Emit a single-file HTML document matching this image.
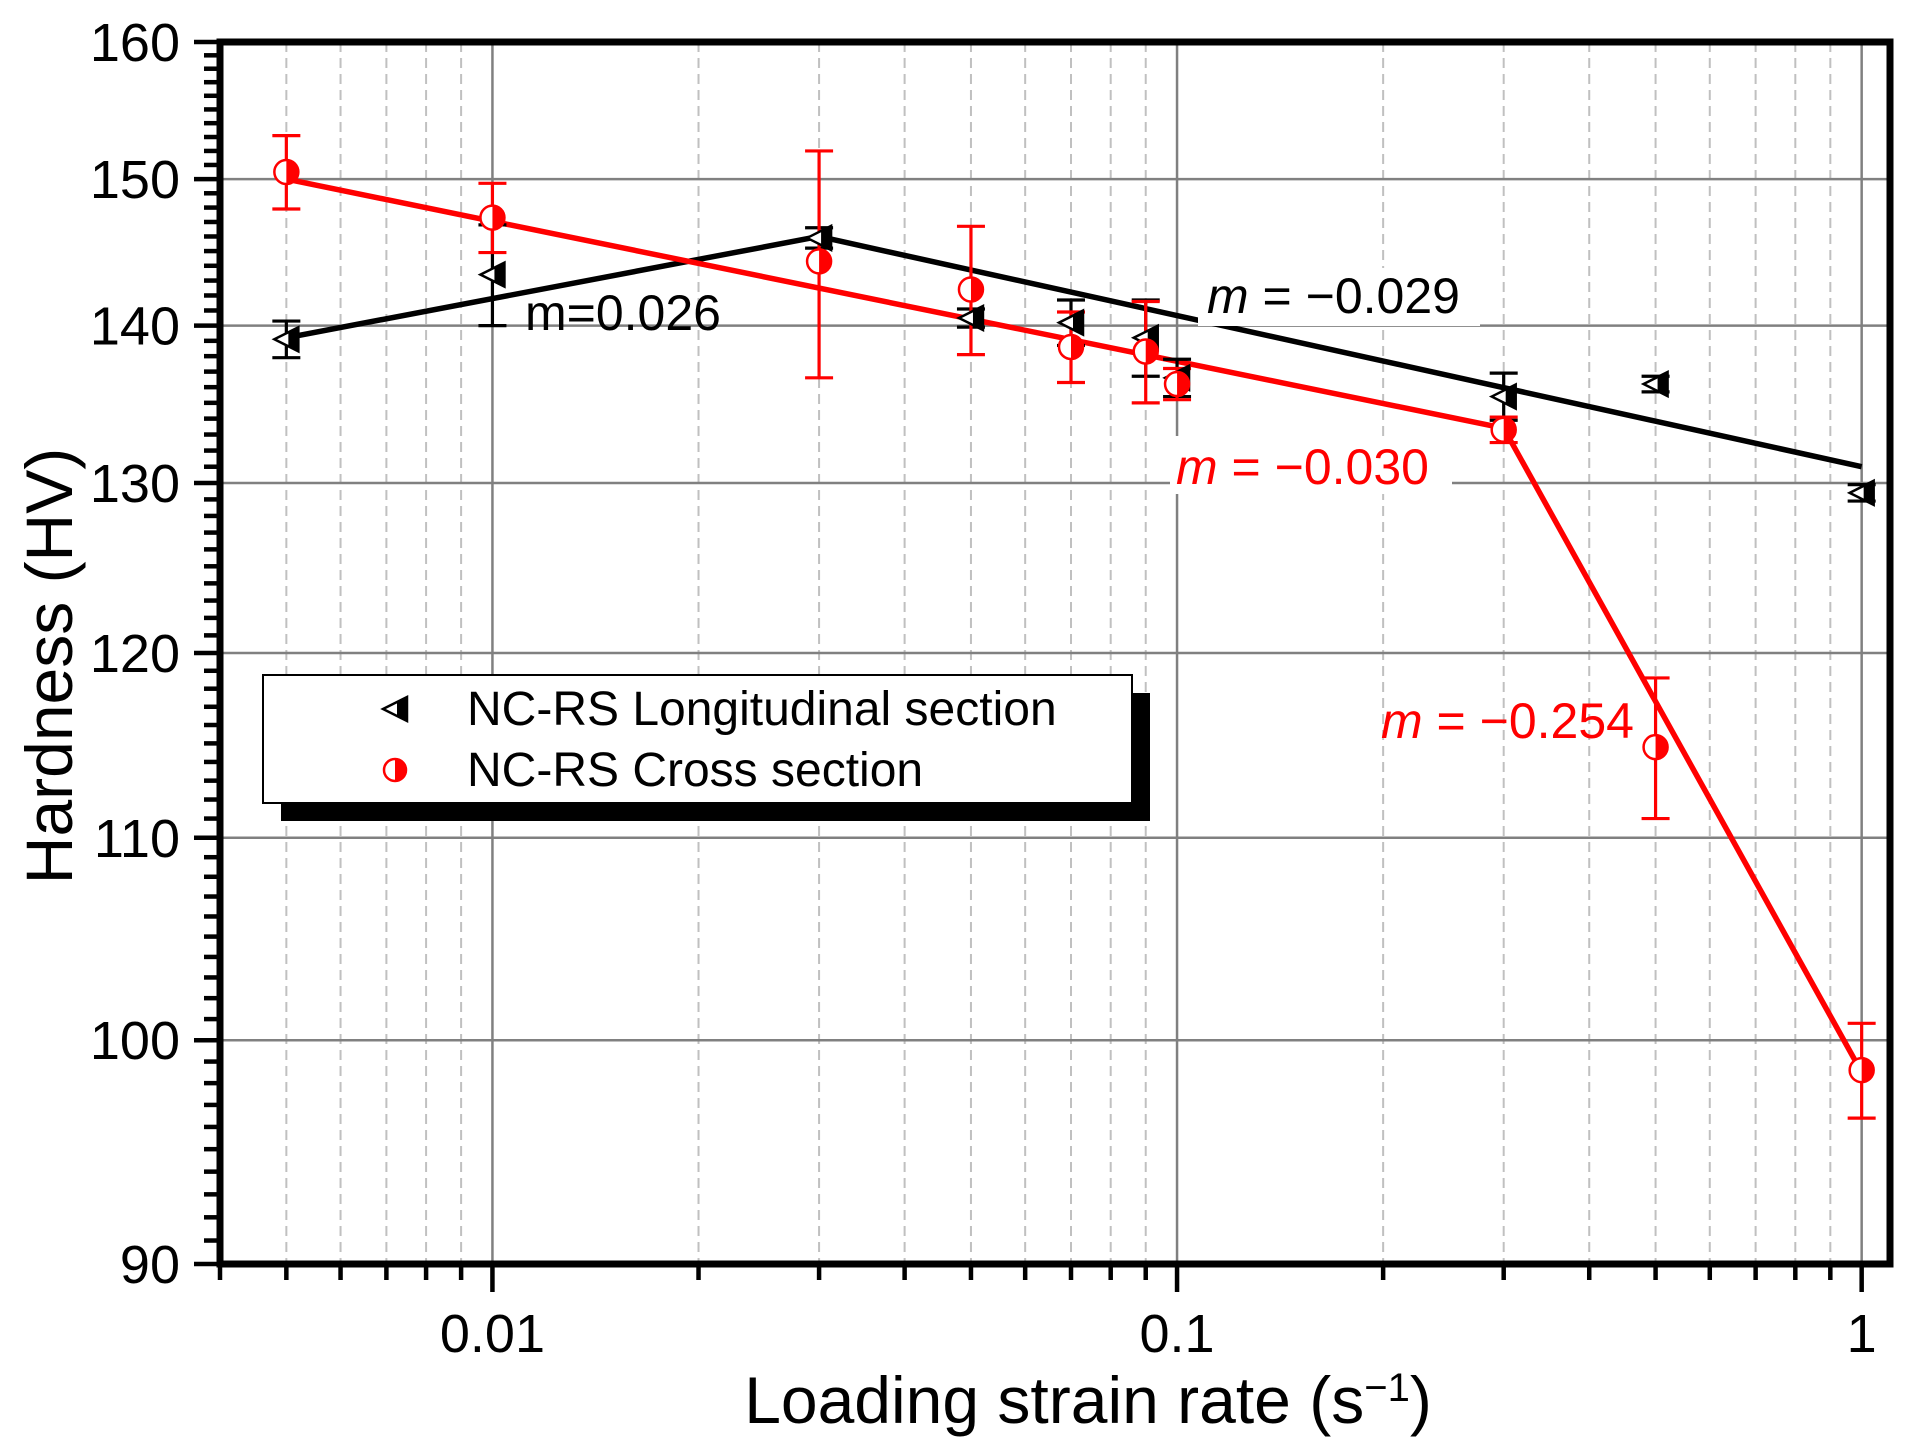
<!DOCTYPE html>
<html><head><meta charset="utf-8"><style>
html,body{margin:0;padding:0;background:#fff}
svg{display:block;font-family:"Liberation Sans",Arial,sans-serif}
</style></head><body>
<svg id="chart" width="1910" height="1455" viewBox="0 0 1910 1455" xmlns="http://www.w3.org/2000/svg">
<g id="grid"></g>
<g id="fits"></g>
<g id="marks"></g>
<g id="axes"></g>
<g>
<text x="525" y="330" font-size="50" fill="#000">m=0.026</text>
<rect x="1198" y="268" width="282" height="58" fill="#fff"/>
<text x="1207" y="313" font-size="50" fill="#000"><tspan font-style="italic">m</tspan> = −0.029</text>
<rect x="1170" y="436" width="282" height="58" fill="#fff"/>
<text x="1176" y="484" font-size="50" fill="#ff0000"><tspan font-style="italic">m</tspan> = −0.030</text>
<text x="1381" y="738" font-size="50" fill="#ff0000"><tspan font-style="italic">m</tspan> = −0.254</text>
</g>
<g>
<rect x="281" y="693" width="869" height="128" fill="#000"/>
<rect x="263" y="675" width="869" height="128" fill="#fff" stroke="#000" stroke-width="2"/>
<g transform="translate(395,709)">
<path d="M-12,0 L12,-12 L12,12 Z" fill="#fff" stroke="#000" stroke-width="2.5"/><path d="M2,-7 L12,-12 L12,12 L2,7 Z" fill="#000"/></g>
<text x="467" y="725" font-size="48">NC-RS Longitudinal section</text>
<g transform="translate(395,770)">
<circle r="11" fill="#fff" stroke="#ff0000" stroke-width="2.5"/><path d="M0,-11 A11,11 0 0 1 0,11 Z" fill="#ff0000"/></g>
<text x="467" y="786" font-size="48">NC-RS Cross section</text>
</g>
<text x="1088" y="1423" font-size="66" text-anchor="middle">Loading strain rate (s<tspan baseline-shift="super" font-size="40">−1</tspan>)</text>
<text transform="translate(72,666) rotate(-90)" font-size="66" text-anchor="middle">Hardness (HV)</text>
</svg>
<script>
const NS="http://www.w3.org/2000/svg";
// data
const rates=[0.005,0.01,0.03,0.05,0.07,0.09,0.1,0.3,0.5,1];
const longHV=[139.1,143.4,145.9,140.5,140.2,139.2,136.6,135.4,136.2,129.4];
const longErr=[1.2,3.4,0.7,0.6,1.5,2.5,1.2,1.5,0.5,0.5];
const crossHV=[150.5,147.3,144.3,142.4,138.6,138.3,136.2,133.3,114.8,98.6];
const crossErr=[2.6,2.4,7.7,4.3,2.3,3.3,1.0,0.8,3.8,2.2];
const longFitX=[0.005,0.03,1];
const longFitY=[139.2,146.0,131.0];
const crossFitX=[0.005,0.3,1];
const crossFitY=[150.0,133.4,98.5];
const yTicks=[90,100,110,120,130,140,150,160];
const xTicks=[0.01,0.1,1];
const xTickLabels=["0.01","0.1","1"];
const X0=220,X1=1890,Y0=42,Y1=1264,XMIN=0.004,XMAX=1.1,YMIN=90,YMAX=160;
function xs(v){return X0+(Math.log10(v)-Math.log10(XMIN))/(Math.log10(XMAX)-Math.log10(XMIN))*(X1-X0);}
function ys(v){return Y0+(Math.log(YMAX)-Math.log(v))/(Math.log(YMAX)-Math.log(YMIN))*(Y1-Y0);}
function mk(tag,attrs,parent){const e=document.createElementNS(NS,tag);for(const k in attrs)e.setAttribute(k,attrs[k]);parent.appendChild(e);return e;}
const grid=document.getElementById('grid'),axes=document.getElementById('axes'),fits=document.getElementById('fits'),marks=document.getElementById('marks');
for(let d=-3;d<=0;d++){for(let m=2;m<=9;m++){const v=m*Math.pow(10,d);if(v<XMIN||v>XMAX)continue;const x=xs(v);
const g=mk('line',{x1:x,x2:x,y1:Y0,y2:Y1,stroke:'#c0c0c0','stroke-width':2,'stroke-dasharray':'10,6'},grid);


const t=mk('line',{x1:x,x2:x,y1:Y1,y2:Y1+16,stroke:'#000','stroke-width':4.5},axes);

}}
xTicks.forEach((v,i)=>{const x=xs(v);
const g=mk('line',{x1:x,x2:x,y1:Y0,y2:Y1,stroke:'#808080','stroke-width':2.5},grid);


const t=mk('line',{x1:x,x2:x,y1:Y1,y2:Y1+28,stroke:'#000','stroke-width':4.5},axes);


const l=mk('text',{x:x,y:1352,'font-size':54,'text-anchor':'middle'},axes);l.textContent=xTickLabels[i];

});
for(let v=91;v<160;v++){if(v%10===0)continue;const y=ys(v);
const t=mk('line',{x1:X0-16,x2:X0,y1:y,y2:y,stroke:'#000','stroke-width':4.5},axes);

}
yTicks.forEach(v=>{const y=ys(v);
if(v>YMIN&&v<YMAX){const g=mk('line',{x1:X0,x2:X1,y1:y,y2:y,stroke:'#808080','stroke-width':2.5},grid);

}
const t=mk('line',{x1:X0-26,x2:X0,y1:y,y2:y,stroke:'#000','stroke-width':4.5},axes);


const l=mk('text',{x:180,y:y+19,'font-size':54,'text-anchor':'end'},axes);l.textContent=v;

});
const frame=mk('rect',{x:X0,y:Y0,width:X1-X0,height:Y1-Y0,fill:'none',stroke:'#000','stroke-width':7},axes);


function fit(xa,ya,col,name){const pts=xa.map((v,i)=>xs(v)+','+ys(ya[i])).join(' ');
const p=mk('polyline',{points:pts,fill:'none',stroke:col,'stroke-width':5.5},fits);

}
fit(longFitX,longFitY,'#000','fit-line-longitudinal');
fit(crossFitX,crossFitY,'#ff0000','fit-line-cross');
function errbar(x,v,e,col,name){const y1=ys(v+e),y2=ys(v-e);
const g=mk('g',{stroke:col,'stroke-width':3.2},marks);


mk('line',{x1:x,x2:x,y1:y1,y2:y2},g);mk('line',{x1:x-14,x2:x+14,y1:y1,y2:y1},g);mk('line',{x1:x-14,x2:x+14,y1:y2,y2:y2},g);}
rates.forEach((r,i)=>{const x=xs(r);
errbar(x,longHV[i],longErr[i],'#000','error-bar-longitudinal');
errbar(x,crossHV[i],crossErr[i],'#ff0000','error-bar-cross');});
rates.forEach((r,i)=>{const x=xs(r),y=ys(longHV[i]);
const g=mk('g',{transform:'translate('+x+','+y+')'},marks);


mk('path',{d:'M-12,0 L12,-12 L12,12 Z',fill:'#fff',stroke:'#000','stroke-width':2.5},g);
mk('path',{d:'M2,-7 L12,-12 L12,12 L2,7 Z',fill:'#000'},g);});
rates.forEach((r,i)=>{const x=xs(r),y=ys(crossHV[i]);
const g=mk('g',{transform:'translate('+x+','+y+')'},marks);


mk('circle',{r:12,fill:'#fff',stroke:'#ff0000','stroke-width':2.5},g);
mk('path',{d:'M0,-12 A12,12 0 0 1 0,12 Z',fill:'#ff0000'},g);});
</script>
</body></html>
